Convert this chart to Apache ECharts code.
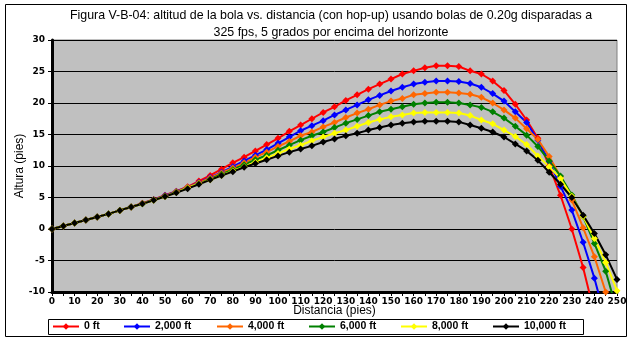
<!DOCTYPE html>
<html>
<head>
<meta charset="utf-8">
<script src="https://cdn.jsdelivr.net/npm/echarts@6/dist/echarts.min.js"></script>
<style>
  html, body { margin: 0; padding: 0; background: #ffffff; }
  #chart { width: 632px; height: 341px; }
</style>
</head>
<body>
<div id="chart"></div>
<script>
// Distance along the range, in feet (one point every 5 ft)
const distances = [];
for (let d = 0; d <= 250; d += 5) distances.push(String(d));

// Altitude of the BB (ft) for each launch altitude above sea level
const alt0ft = [0, 0.48, 0.95, 1.43, 1.9, 2.4, 2.95, 3.5, 4.1, 4.7, 5.35, 6.0, 6.7, 7.6, 8.5, 9.5, 10.5, 11.4, 12.4, 13.4, 14.4, 15.5, 16.5, 17.5, 18.5, 19.4, 20.4, 21.3, 22.2, 23.0, 23.8, 24.6, 25.1, 25.6, 25.9, 25.9, 25.8, 25.1, 24.6, 23.5, 22.0, 19.8, 17.3, 14.4, 10.0, 5.35, 0.0, -6.1, -13.4, null, null];
const alt2000ft = [0, 0.48, 0.95, 1.43, 1.9, 2.4, 2.95, 3.5, 4.05, 4.65, 5.3, 5.95, 6.6, 7.4, 8.2, 9.0, 9.9, 10.8, 11.7, 12.6, 13.6, 14.6, 15.6, 16.4, 17.2, 18.1, 18.9, 19.7, 20.5, 21.2, 21.9, 22.5, 23.0, 23.3, 23.5, 23.5, 23.4, 23.1, 22.5, 21.5, 20.3, 18.6, 16.9, 14.1, 10.7, 6.8, 3.0, -2.1, -7.8, -14.5, null];
const alt4000ft = [0, 0.48, 0.95, 1.43, 1.9, 2.4, 2.95, 3.5, 4.05, 4.6, 5.25, 5.9, 6.6, 7.3, 8.1, 8.9, 9.7, 10.5, 11.4, 12.2, 13.1, 13.9, 14.8, 15.4, 16.2, 16.9, 17.7, 18.4, 19.0, 19.7, 20.3, 20.7, 21.3, 21.5, 21.7, 21.7, 21.6, 21.4, 20.9, 20.0, 18.9, 17.6, 15.9, 14.2, 11.5, 8.3, 4.6, 0.2, -4.4, -10.0, -16.0];
const alt6000ft = [0, 0.48, 0.95, 1.43, 1.9, 2.4, 2.95, 3.5, 4.0, 4.6, 5.2, 5.85, 6.5, 7.2, 7.9, 8.7, 9.4, 10.2, 11.0, 11.7, 12.5, 13.3, 14.1, 14.8, 15.4, 16.1, 16.8, 17.4, 18.0, 18.6, 19.0, 19.4, 19.8, 20.0, 20.1, 20.1, 20.0, 19.7, 19.3, 18.6, 17.6, 16.3, 14.9, 13.1, 10.8, 8.4, 5.4, 2.0, -2.3, -6.7, -13.0];
const alt8000ft = [0, 0.48, 0.95, 1.43, 1.9, 2.4, 2.95, 3.5, 4.0, 4.55, 5.15, 5.8, 6.5, 7.2, 7.8, 8.5, 9.2, 9.9, 10.6, 11.3, 12.0, 12.7, 13.3, 14.0, 14.6, 15.2, 15.7, 16.3, 16.9, 17.4, 17.8, 18.1, 18.4, 18.5, 18.5, 18.5, 18.4, 18.0, 17.3, 16.7, 15.7, 14.7, 13.4, 11.6, 9.9, 8.0, 5.2, 2.0, -1.5, -5.3, -9.8];
const alt10000ft = [0, 0.48, 0.95, 1.43, 1.9, 2.4, 2.95, 3.5, 4.0, 4.55, 5.15, 5.75, 6.4, 7.1, 7.8, 8.5, 9.1, 9.8, 10.4, 11.0, 11.6, 12.2, 12.7, 13.2, 13.8, 14.3, 14.8, 15.2, 15.7, 16.1, 16.5, 16.8, 17.0, 17.1, 17.1, 17.1, 17.0, 16.5, 16.0, 15.4, 14.6, 13.5, 12.4, 10.9, 9.0, 7.1, 5.0, 2.2, -0.7, -4.1, -8.0];

const seriesNames = ['0 ft', '2,000 ft', '4,000 ft', '6,000 ft', '8,000 ft', '10,000 ft'];
const seriesData = [alt0ft, alt2000ft, alt4000ft, alt6000ft, alt8000ft, alt10000ft];
const seriesColors = ['#ff0000', '#0000ff', '#ff6600', '#008000', '#ffff00', '#000000'];

const yTicks = { min: -10, max: 30, step: 5 };

// Horizontal start of each legend entry inside the legend box
const legendLeft = [52, 123, 216, 308, 400, 492];

const chart = echarts.init(document.getElementById('chart'), null, { renderer: 'canvas' });

const tickFont = { fontFamily: 'DejaVu Sans', fontWeight: 'bold', fontSize: 9, color: '#000' };

chart.setOption({
  animation: false,
  backgroundColor: '#ffffff',
  title: {
    text: 'Figura V-B-04: altitud de la bola vs. distancia (con hop-up) usando bolas de 0.20g disparadas a\n325 fps, 5 grados por encima del horizonte',
    left: 331,
    top: 7,
    padding: 0,
    textAlign: 'center',
    textStyle: { fontFamily: 'Liberation Sans', fontWeight: 'normal', fontSize: 12.4, lineHeight: 17, color: '#000' }
  },
  graphic: [
    { type: 'rect', shape: { x: 5.5, y: 4.5, width: 621, height: 332 }, style: { fill: null, stroke: '#000', lineWidth: 1 }, silent: true, z: -1 },
    { type: 'rect', shape: { x: 48.5, y: 319.5, width: 535, height: 15 }, style: { fill: null, stroke: '#000', lineWidth: 1 }, silent: true, z: -1 }
  ],
  legend: seriesNames.map((name, i) => ({
    left: legendLeft[i],
    top: 321,
    padding: 0,
    itemWidth: 26,
    itemHeight: 8,
    textStyle: { fontFamily: 'Liberation Sans', fontWeight: 'bold', fontSize: 10.5, color: '#000' },
    data: [name]
  })),
  grid: { left: 52, right: 15, top: 40, bottom: 49, show: true, backgroundColor: '#c0c0c0', borderColor: '#808080', borderWidth: 1 },
  xAxis: {
    type: 'category',
    data: distances,
    boundaryGap: false,
    name: 'Distancia (pies)',
    nameLocation: 'middle',
    nameGap: 13,
    nameMoveOverlap: false,
    nameTextStyle: { fontFamily: 'Liberation Sans', fontSize: 12, color: '#000' },
    axisLine: { onZero: false, lineStyle: { color: '#000', width: 3 } },
    axisTick: { show: true, interval: 0, length: 4, lineStyle: { color: '#000', width: 1 } },
    axisLabel: Object.assign({ interval: 1, margin: 5 }, tickFont),
    splitLine: { show: false }
  },
  yAxis: {
    type: 'value',
    min: yTicks.min,
    max: yTicks.max,
    interval: yTicks.step,
    name: 'Altura (pies)',
    nameLocation: 'middle',
    nameGap: 26,
    nameMoveOverlap: false,
    nameRotate: 90,
    nameTextStyle: { fontFamily: 'Liberation Sans', fontSize: 12, color: '#000' },
    axisLine: { show: true, lineStyle: { color: '#000', width: 3 } },
    axisTick: { show: true, length: 4, lineStyle: { color: '#000', width: 1 } },
    axisLabel: Object.assign({ margin: 7 }, tickFont),
    splitLine: { show: true, lineStyle: { color: '#000', width: 1 } }
  },
  series: seriesNames.map((name, i) => ({
    name: name,
    type: 'line',
    data: seriesData[i],
    color: seriesColors[i],
    symbol: 'diamond',
    symbolSize: 7,
    showSymbol: true,
    clip: true,
    connectNulls: false,
    lineStyle: { width: 2, color: seriesColors[i] },
    itemStyle: { color: seriesColors[i] }
  }))
});
</script>
</body>
</html>
